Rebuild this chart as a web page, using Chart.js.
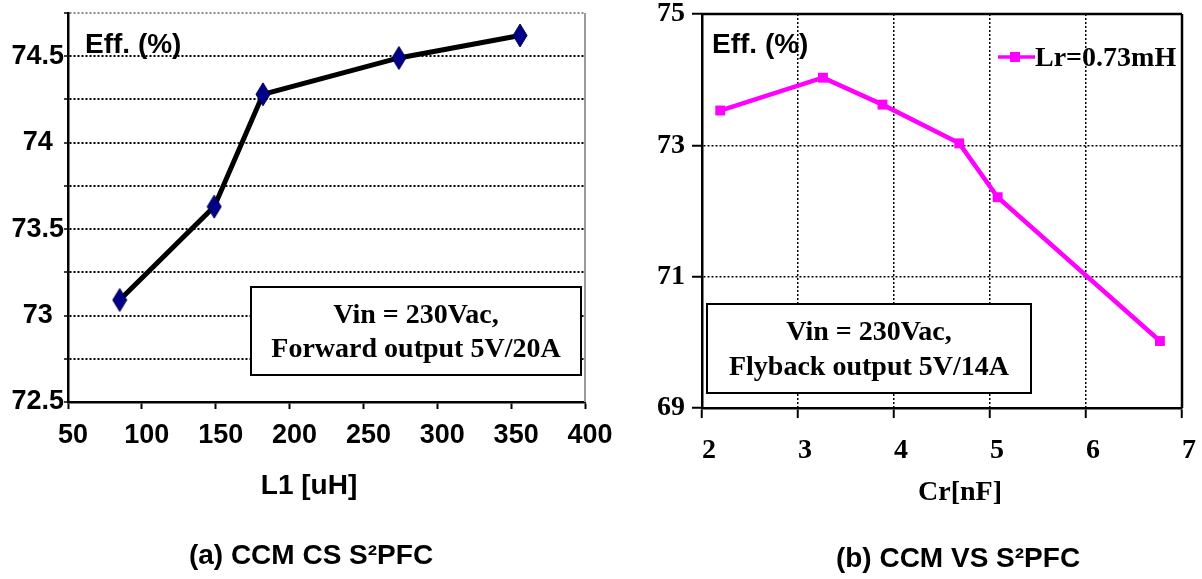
<!DOCTYPE html>
<html><head><meta charset="utf-8">
<script src="https://cdn.jsdelivr.net/npm/chart.js@4.4.1/dist/chart.umd.min.js"></script>
<style>
html,body{margin:0;padding:0;background:#fff;}
#wrap{position:relative;width:1202px;height:579px;overflow:hidden;background:#fff;}
#pa{position:absolute;left:0;top:0;width:640px;height:579px;}
#pb{position:absolute;left:600px;top:0;width:602px;height:579px;}
canvas{display:block;}
</style></head><body>
<div id="wrap">
  <div id="pa"><canvas id="ca" width="640" height="579"></canvas></div>
  <div id="pb"><canvas id="cb" width="602" height="579"></canvas></div>
</div>
<script>
// ---- data (a) ----
const l1Values = [85, 149, 182, 274, 356];
const effA = [73.09, 73.63, 74.28, 74.49, 74.62];
const xTitleA = 'L1 [uH]';
const captionA = '(a) CCM CS S\u00B2PFC';
const noteA = ['Vin = 230Vac,', 'Forward output 5V/20A'];
// ---- data (b) ----
const crValues = [2.19, 3.26, 3.88, 4.68, 5.08, 6.77];
const effB = [73.53, 74.03, 73.62, 73.03, 72.21, 70.02];
const seriesB = 'Lr=0.73mH';
const xTitleB = 'Cr[nF]';
const captionB = '(b) CCM VS S\u00B2PFC';
const noteB = ['Vin = 230Vac,', 'Flyback output 5V/14A'];
const effLabel = 'Eff. (%)';

const SANS = '"Liberation Sans", Arial, sans-serif';
const SERIF = '"Liberation Serif", "Times New Roman", serif';

function diamond(w, h, fill, stroke) {
  const c = document.createElement('canvas');
  c.width = w + 2; c.height = h + 2;
  const g = c.getContext('2d');
  g.beginPath();
  g.moveTo(c.width / 2, 1); g.lineTo(c.width - 1, c.height / 2);
  g.lineTo(c.width / 2, c.height - 1); g.lineTo(1, c.height / 2);
  g.closePath();
  g.fillStyle = fill; g.fill();
  g.strokeStyle = stroke; g.lineWidth = 1; g.stroke();
  return c;
}

function fixSize(w, h) {
  return function (scale) {
    if (w != null) scale.width = w;
    if (h != null) scale.height = h;
    scale.paddingLeft = 0; scale.paddingRight = 0;
    scale.paddingTop = 0; scale.paddingBottom = 0;
  };
}

const extras = {
  id: 'extras',
  afterDraw(chart, args, o) {
    const ctx = chart.ctx, a = chart.chartArea;
    ctx.save();
    if (o.frame) {
      ctx.strokeStyle = o.frame.color; ctx.lineWidth = o.frame.width;
      ctx.beginPath();
      if (o.frame.top) { ctx.moveTo(a.left - 1, a.top); ctx.lineTo(a.right, a.top); }
      ctx.moveTo(a.right, a.top); ctx.lineTo(a.right, a.bottom);
      ctx.stroke();
    }
    if (o.note) {
      const n = o.note;
      ctx.fillStyle = '#fff';
      ctx.fillRect(n.x1, n.y1, n.x2 - n.x1, n.y2 - n.y1);
      ctx.strokeStyle = '#000'; ctx.lineWidth = 2;
      ctx.strokeRect(n.x1, n.y1, n.x2 - n.x1, n.y2 - n.y1);
      ctx.fillStyle = '#000'; ctx.font = n.font;
      ctx.textAlign = 'center'; ctx.textBaseline = 'middle';
      n.lines.forEach((t, i) => ctx.fillText(t, (n.x1 + n.x2) / 2, n.ys[i]));
    }
    ctx.fillStyle = '#000';
    ctx.textBaseline = 'middle';
    if (o.eff) {
      ctx.font = o.eff.font; ctx.textAlign = 'left';
      ctx.fillText(effLabel, o.eff.x, o.eff.y);
    }
    if (o.title) {
      ctx.font = o.title.font; ctx.textAlign = 'center';
      ctx.fillText(o.title.text, o.title.x, o.title.y);
    }
    if (o.caption) {
      ctx.font = o.caption.font; ctx.textAlign = 'center';
      ctx.fillText(o.caption.text, o.caption.x, o.caption.y);
    }
    if (o.legend) {
      const L = o.legend, ds = chart.data.datasets[0];
      ctx.strokeStyle = ds.borderColor; ctx.lineWidth = 3.5;
      ctx.beginPath(); ctx.moveTo(L.x1, L.y); ctx.lineTo(L.x2, L.y); ctx.stroke();
      ctx.fillStyle = ds.backgroundColor;
      ctx.fillRect(L.m - 5, L.y - 5, 10, 10);
      ctx.fillStyle = '#000'; ctx.font = L.font; ctx.textAlign = 'left';
      ctx.fillText(ds.label, L.x2, L.y + 2);
    }
    ctx.restore();
  }
};

// ---------------- Chart (a) ----------------
new Chart(document.getElementById('ca'), {
  type: 'scatter',
  data: {
    datasets: [{
      label: 'Eff',
      data: l1Values.map((x, i) => ({ x: x, y: effA[i] })),
      showLine: true,
      borderColor: '#000',
      borderWidth: 5,
      pointStyle: diamond(14, 23, '#000088', '#000040'),
      pointRadius: 8,
      tension: 0
    }]
  },
  options: {
    responsive: false, animation: false, devicePixelRatio: 1,
    layout: { padding: { left: 0, top: 10, right: 55, bottom: 0 } },
    plugins: {
      legend: { display: false }, tooltip: { enabled: false },
      extras: {
        frame: { color: '#9a9a9a', width: 2, top: false },
        note: { x1: 251, y1: 287, x2: 581, y2: 375, ys: [316, 350], lines: noteA,
                font: 'bold 28px ' + SERIF },
        eff: { x: 85, y: 45, font: 'bold 28px ' + SANS },
        title: { text: xTitleA, x: 309, y: 486, font: 'bold 28px ' + SANS },
        caption: { text: captionA, x: 311, y: 556, font: 'bold 28px ' + SANS }
      }
    },
    scales: {
      x: {
        type: 'linear', min: 50, max: 400,
        afterFit: fixSize(null, 177),
        ticks: { stepSize: 50, color: '#000', font: { family: SANS, size: 27, weight: 'bold' },
                 padding: 10, labelOffset: 5, maxRotation: 0, autoSkip: false },
        grid: { drawOnChartArea: false, drawTicks: true, tickLength: 7, tickColor: '#000', tickWidth: 2 },
        border: { display: true, color: '#000', width: 2.5 }
      },
      y: {
        type: 'linear', min: 72.5, max: 74.75,
        afterFit: fixSize(68, null),
        ticks: {
          stepSize: 0.25, color: '#000', crossAlign: 'center', padding: 0,
          font: { family: SANS, size: 27, weight: 'bold' },
          callback: function (v) { return Math.abs(v * 2 - Math.round(v * 2)) < 1e-6 ? String(v) : ''; }
        },
        grid: {
          color: function (c) { return c.tick && Math.abs(c.tick.value - 74.75) < 1e-6 ? '#8a8a8a' : '#000'; },
          lineWidth: 2, drawTicks: true, tickLength: 4, tickColor: '#000', tickWidth: 1.5, tickBorderDash: []
        },
        border: { display: true, color: '#000', width: 2.5, dash: [2, 2] }
      }
    }
  },
  plugins: [extras]
});

// ---------------- Chart (b) ----------------
new Chart(document.getElementById('cb'), {
  type: 'scatter',
  data: {
    datasets: [{
      label: seriesB,
      data: crValues.map((x, i) => ({ x: x, y: effB[i] })),
      showLine: true,
      borderColor: '#ff00ff',
      backgroundColor: '#ff00ff',
      borderWidth: 4.5,
      pointStyle: 'rect',
      pointRadius: 7,
      pointBorderWidth: 0,
      tension: 0
    }]
  },
  options: {
    responsive: false, animation: false, devicePixelRatio: 1,
    layout: { padding: { left: 0, top: 14, right: 20, bottom: 0 } },
    plugins: {
      legend: { display: false }, tooltip: { enabled: false },
      extras: {
        frame: { color: '#000', width: 2.5, top: true },
        note: { x1: 107, y1: 304, x2: 431, y2: 393, ys: [333, 368], lines: noteB,
                font: 'bold 28px ' + SERIF },
        eff: { x: 112, y: 45, font: 'bold 28px ' + SANS },
        title: { text: xTitleB, x: 360, y: 493, font: 'bold 28px ' + SERIF },
        caption: { text: captionB, x: 358, y: 559, font: 'bold 28px ' + SANS },
        legend: { x1: 398, x2: 435, m: 415, y: 57, font: 'bold 28px ' + SERIF }
      }
    },
    scales: {
      x: {
        type: 'linear', min: 2, max: 7,
        afterFit: fixSize(null, 171),
        ticks: { stepSize: 1, color: '#000', font: { family: SERIF, size: 28, weight: 'bold' },
                 padding: 16, labelOffset: 7, maxRotation: 0, autoSkip: false },
        grid: { color: '#000', lineWidth: 1.5, drawTicks: true, tickLength: 10, tickColor: '#000', tickWidth: 2, tickBorderDash: [] },
        border: { display: true, color: '#000', width: 2.5, dash: [2, 2] }
      },
      y: {
        type: 'linear', min: 69, max: 75,
        afterFit: fixSize(102, null),
        ticks: { stepSize: 2, color: '#000', padding: 7,
                 font: { family: SERIF, size: 28, weight: 'bold' } },
        grid: { color: '#000', lineWidth: 1.5, drawTicks: true, tickLength: 10, tickColor: '#000', tickWidth: 2, tickBorderDash: [] },
        border: { display: true, color: '#000', width: 2.5, dash: [2, 2] }
      }
    }
  },
  plugins: [extras]
});
</script>
</body></html>
